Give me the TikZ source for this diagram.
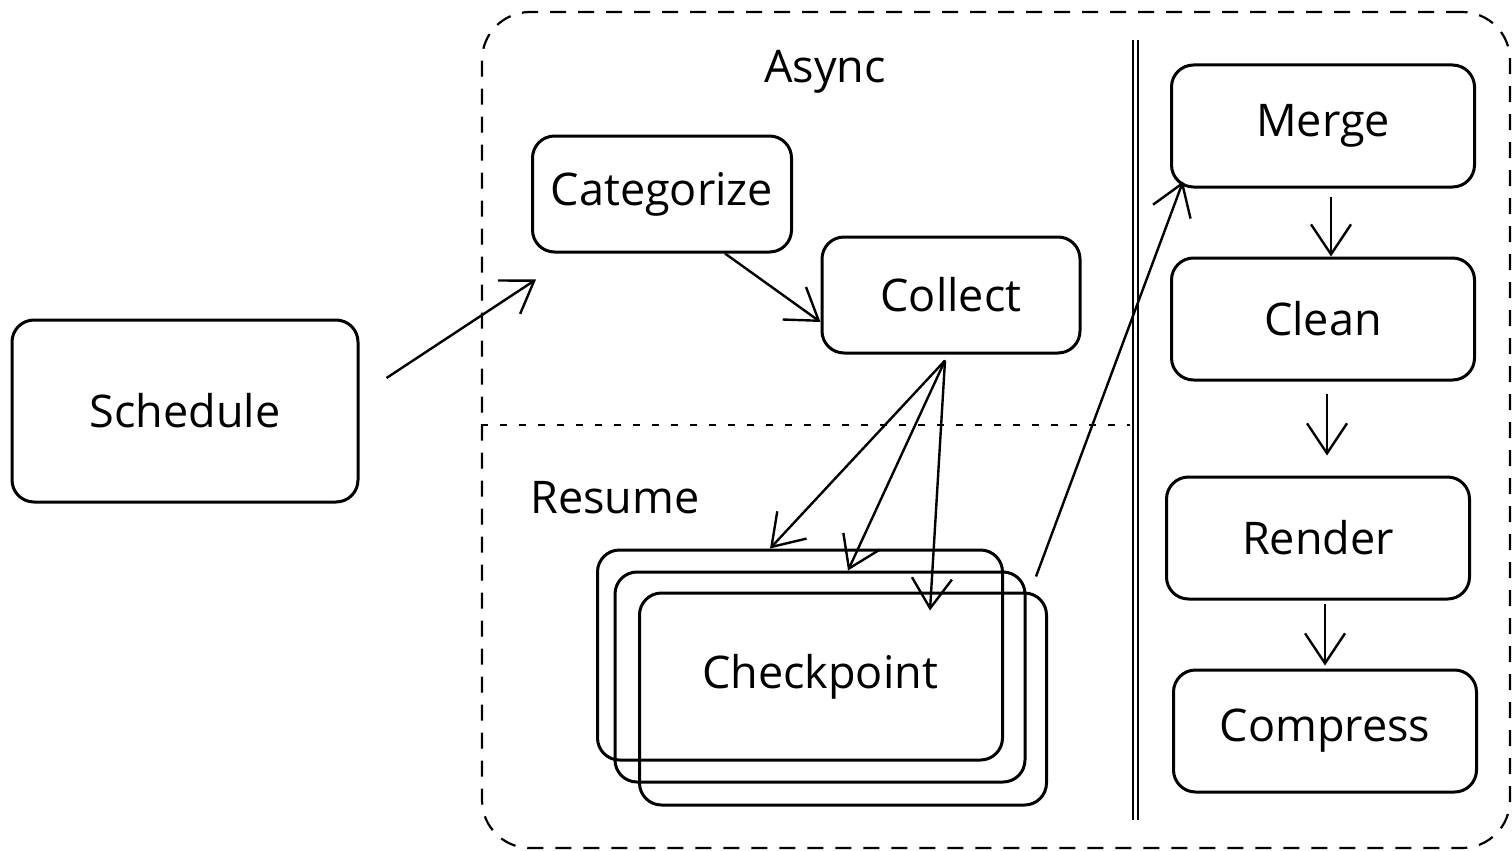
\documentclass[tikz,border=0pt]{standalone}
\usepackage{fontspec}
\setmainfont{Open Sans}
\usetikzlibrary{positioning,calc,arrows.meta}

\begin{document}
\begin{tikzpicture}[
    x=1pt, y=-1pt,
    line width=3pt,
    box/.style={rectangle, draw, rounded corners=22pt, minimum width=303pt, minimum height=122pt, inner sep=0pt, font=\fontsize{45}{54}\selectfont},
    grouptext/.style={inner sep=0pt, font=\fontsize{45}{54}\selectfont},
    regionbox/.style={draw, line width=2.2pt, dash pattern=on 16pt off 12pt, rounded corners=48pt},
    arrow/.style={line width=2.4pt, -{Straight Barb[length=30pt,width=40pt]}}
]
    \useasboundingbox (0,0) rectangle (1512,851);

    % dashed region with its split
    \node[regionbox, minimum width=1028pt, minimum height=836pt] (region) at (996,430) {};
    \coordinate (divtop) at (1135,40);
    \coordinate (divbot) at (1135,820);
    \coordinate (splitend) at (1130,425);
    \draw[double, double distance=3pt, line width=2pt] (divtop) -- (divbot);
    \draw[line width=2.5pt, dash pattern=on 7pt off 12pt] (region.west |- splitend) -- (splitend);

    \node[grouptext] (asynclabel) at (825,72) {Async};
    \node[grouptext] (resumelabel) at (615,498) {Resume};

    \node[box, minimum width=346pt, minimum height=182pt] (schedule) at (185,411) {Schedule};
    \node[box, minimum width=259pt, minimum height=116pt] (categorize) at (662,194) {Categorize};
    \node[box, minimum width=258pt, minimum height=116pt] (collect) at (951,295) {Collect};

    % stacked checkpoint
    \node[box, minimum width=405pt, minimum height=210pt] (ckptback) at (800,655) {};
    \node[box, minimum width=410pt, minimum height=210pt] (ckpt) at (820,677) {Checkpoint};
    \node[box, minimum width=407pt, minimum height=212pt] (ckptfront) at (843,699) {};

    \node[box] (merge) at (1323,126) {Merge};
    \node[box, below=68pt of merge] (clean) {Clean};
    \node[box, below=94pt of clean, xshift=-5pt] (render) {Render};
    \node[box, below=68pt of render, xshift=7pt] (compress) {Compress};

    \draw[arrow] ([shift={(27pt,33pt)}]schedule.east) -- ([shift={(5pt,-26pt)}]categorize.south west);
    \draw[arrow] ([xshift=63pt]categorize.south) -- ([yshift=-27pt]collect.west);

    \coordinate (fanout) at ([shift={(-6pt,-6pt)}]collect.south);
    \draw[arrow] (fanout) -- ([xshift=-30pt]ckptback.north);
    \draw[arrow] (fanout) -- ([xshift=28pt]ckpt.north);
    \draw[arrow] (fanout) -- ([shift={(87pt,-19pt)}]ckptfront.north);

    \draw[arrow] ([shift={(-12pt,15pt)}]ckptfront.north east) -- ([shift={(13pt,7pt)}]merge.south west);

    \draw[arrow, shorten <=8pt] ([xshift=8pt]merge.south) -- ([xshift=8pt]clean.north);
    \draw[arrow, shorten <=12pt, shorten >=20pt] ([xshift=4pt]clean.south) -- ([xshift=9pt]render.north);
    \draw[arrow, shorten <=3pt, shorten >=3pt] ([xshift=7pt]render.south) -- (compress.north);
\end{tikzpicture}
\end{document}
